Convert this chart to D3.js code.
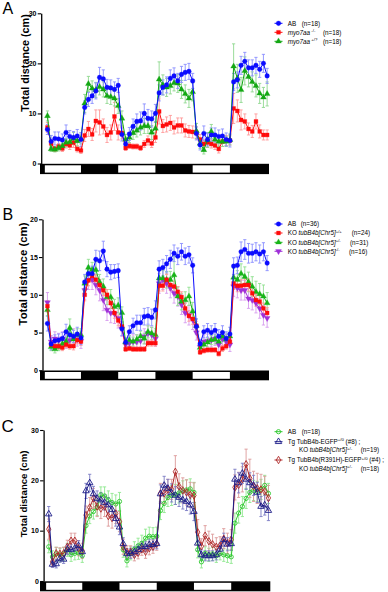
<!DOCTYPE html>
<html><head><meta charset="utf-8">
<script src="https://cdn.jsdelivr.net/npm/d3@7"></script>
<style>body{margin:0;background:#fff} svg{display:block;font-family:"Liberation Sans",Arial,sans-serif}</style>
</head><body><svg id="c" width="388" height="592"></svg>
<script>
// ---------- DATA ----------
const timeBins = d3.range(60);               // consecutive recording bins
const lightPeriods = [[-0.7, 9], [19, 29], [39, 49]];   // white = light phase
const xExtent = [-2, 59.5];

// Panel A
const A_ticks = [0, 10, 20, 30];
const A_AB = [6.8,4.4,5.0,4.9,4.7,6.2,5.4,5.2,5.5,4.8, 11.2,12.8,13.5,14.5,17.2,16.9,15.2,15.1,14.8,15.6, 5.8,3.9,5.9,7.4,8.4,8.5,10.0,9.0,8.9,10.0, 14.1,15.2,15.7,17.0,17.5,16.5,17.8,18.2,18.4,16.5, 6.0,3.7,6.0,4.8,5.7,5.7,5.4,5.5,4.8,4.6, 16.3,16.7,19.6,20.4,19.1,19.1,19.6,18.8,20.0,17.5];
const A_AB_err = [1.0,1.2,1.3,1.4,1.2,1.5,1.2,1.2,1.3,1.4, 1.3,1.4,1.5,1.6,2.0,1.8,1.6,1.6,1.5,1.4, 1.3,1.0,1.3,1.5,1.5,1.8,1.9,1.8,1.6,1.8, 1.6,1.5,1.6,1.7,1.6,1.5,1.6,1.6,1.6,1.5, 1.3,1.0,1.5,1.3,1.4,1.4,1.3,1.4,1.3,1.3, 1.7,1.6,1.8,1.8,1.6,1.6,1.6,1.6,1.8,1.5];
const A_mm = [7.2,4.0,2.9,3.4,3.0,3.9,3.6,4.2,2.9,2.6, 5.6,6.9,5.8,8.5,8.2,7.4,5.7,6.2,9.4,6.2, 6.1,3.1,3.5,3.4,3.4,3.1,3.9,4.6,4.0,5.2, 10.4,7.5,7.8,8.1,7.2,7.6,7.6,6.6,6.4,6.3, 6.1,4.8,3.9,4.2,3.9,3.6,2.9,4.4,4.6,4.6, 11.0,10.5,8.7,8.4,6.9,6.4,8.4,6.4,5.7,5.7];
const A_mm_err = [1.0,0.8,0.5,0.6,0.6,0.8,0.8,1.0,0.6,0.6, 1.2,1.5,1.2,2.2,2.5,1.5,1.5,1.5,2.8,1.5, 1.2,0.5,0.5,0.5,0.5,0.5,0.7,0.9,0.8,1.0, 2.5,1.3,1.5,1.5,1.3,1.5,1.5,1.3,1.2,1.2, 1.2,1.0,0.8,0.9,0.8,0.8,0.8,1.0,1.0,0.9, 3.0,2.2,2.0,1.5,1.2,1.2,1.5,1.3,1.0,1.0];
const A_pq = [9.5,2.9,2.8,3.1,3.5,4.2,4.3,5.0,4.5,4.9, 12.0,15.9,15.0,14.7,15.3,14.8,13.5,13.3,13.0,11.5, 9.0,4.8,5.2,6.1,6.6,7.2,7.5,7.5,6.2,7.0, 16.8,15.7,15.2,15.5,16.1,16.0,14.8,13.9,13.0,14.3, 6.5,4.0,2.7,4.7,6.4,4.8,4.4,4.4,4.4,4.7, 19.4,17.0,14.7,18.5,17.3,16.3,15.5,14.0,13.2,13.9];
const A_pq_err = [1.0,0.5,0.5,0.6,0.6,0.8,0.8,1.2,1.0,1.0, 1.8,1.5,1.5,1.5,1.6,1.5,1.5,1.5,1.5,1.5, 1.5,1.0,1.0,1.3,1.3,1.5,1.5,1.5,1.4,1.4, 3.5,2.0,1.8,1.6,1.6,1.8,1.8,1.8,1.8,1.8, 1.5,1.0,0.8,1.5,1.4,1.2,1.0,1.0,1.0,1.0, 4.5,2.8,2.5,2.8,2.0,2.0,2.2,2.0,2.0,2.4];

// Panel B
const B_ticks = [0, 5, 10, 15, 20];
const B_AB = [6.2,3.5,3.9,4.0,4.2,5.1,4.7,4.5,4.8,4.3, 11.7,12.8,12.8,14.7,14.5,15.8,13.4,13.0,13.1,13.2, 5.5,3.7,5.1,5.9,6.3,6.3,7.1,7.2,7.0,8.0, 13.4,13.6,14.1,14.7,15.5,15.1,15.7,15.1,15.3,13.9, 5.8,3.5,5.1,5.3,5.0,5.3,4.5,5.0,4.2,4.8, 13.8,13.9,15.7,16.0,15.5,15.5,15.7,15.4,15.7,14.2];
const B_AB_err = [1.0,0.8,0.8,0.8,0.8,1.0,0.9,0.8,0.9,0.9, 1.0,1.0,1.0,1.2,1.3,1.3,1.0,1.0,0.9,0.9, 0.9,0.6,0.8,1.0,1.0,1.0,1.1,1.1,1.1,1.2, 1.1,1.1,1.1,1.2,1.1,1.1,1.1,1.1,1.1,1.0, 1.0,0.6,0.8,0.9,0.9,0.9,0.9,0.9,0.9,0.9, 1.1,1.1,1.3,1.3,1.3,1.2,1.2,1.2,1.2,1.0];
const B_pp = [8.5,3.4,3.2,3.2,3.0,3.4,3.2,3.2,4.0,3.8, 10.0,11.9,12.5,12.0,11.3,10.6,10.0,8.9,7.6,6.6, 5.8,2.8,2.9,2.8,2.8,2.8,2.8,3.6,3.6,3.6, 11.2,11.2,12.0,11.3,11.1,10.4,9.7,8.2,7.2,6.8, 5.9,2.4,2.6,2.7,2.7,2.7,2.2,2.9,3.2,3.8, 11.5,11.2,11.2,11.3,11.3,10.2,9.3,9.1,8.2,7.6];
const B_pp_err = [0.7,0.4,0.4,0.4,0.4,0.4,0.4,0.5,0.5,0.5, 0.8,0.7,0.7,0.7,0.7,0.7,0.7,0.7,0.7,0.7, 0.6,0.3,0.3,0.3,0.3,0.3,0.3,0.4,0.4,0.4, 0.7,0.7,0.7,0.7,0.7,0.7,0.7,0.7,0.7,0.7, 0.6,0.3,0.3,0.3,0.3,0.3,0.3,0.4,0.4,0.4, 0.8,0.8,0.8,0.8,0.8,0.8,0.8,0.8,0.7,0.7];
const B_pm = [8.0,3.1,2.8,3.1,3.5,3.8,5.6,4.1,4.7,4.7, 11.5,13.6,13.3,13.3,11.7,11.1,9.7,9.7,8.4,8.6, 7.6,3.7,4.0,3.8,4.1,4.5,4.2,5.1,4.9,4.7, 12.2,12.2,12.0,12.0,12.6,9.8,9.1,9.3,9.8,7.8, 5.9,3.0,3.4,3.7,4.0,4.1,3.8,4.5,4.1,4.5, 12.3,12.0,12.8,12.4,11.7,11.1,10.4,10.1,9.8,8.9];
const B_pm_err = [0.8,0.5,0.5,0.5,0.6,0.6,1.2,0.8,0.8,0.8, 1.0,1.1,1.0,1.1,1.0,1.0,1.0,1.0,1.0,1.0, 0.8,0.5,0.6,0.6,0.6,0.7,0.7,0.8,0.8,0.8, 1.0,1.0,1.1,1.1,2.5,1.2,1.1,1.1,1.2,1.2, 0.9,0.5,0.6,0.6,0.6,0.6,0.6,0.7,0.7,0.7, 1.2,1.2,1.3,1.3,1.3,1.3,1.4,1.4,1.5,1.4];
const B_mm = [9.0,3.8,4.2,4.0,4.2,3.8,4.0,4.5,4.1,3.9, 10.6,12.0,12.0,11.3,10.6,9.3,8.0,7.6,7.5,6.9, 5.5,3.4,3.6,3.8,3.8,3.9,4.5,4.9,4.7,4.2, 11.5,12.0,11.5,10.9,10.2,9.8,8.7,7.6,7.3,6.7, 5.0,3.1,3.8,3.9,4.0,4.2,3.4,4.2,3.8,3.4, 11.1,10.9,10.6,10.6,9.5,9.3,8.9,8.2,7.3,6.9];
const B_mm_err = [1.3,0.8,0.9,0.9,0.9,0.9,0.9,1.0,0.9,1.0, 1.2,1.3,1.3,1.3,1.4,1.4,1.4,1.3,1.3,1.3, 1.0,0.8,0.9,0.9,0.9,0.9,1.0,1.0,1.0,1.0, 1.3,1.3,1.3,1.3,1.3,1.3,1.3,1.3,1.3,1.3, 1.0,0.8,0.9,0.9,0.9,0.9,0.9,0.9,0.9,0.9, 1.3,1.3,1.3,1.3,1.3,1.3,1.3,1.3,1.3,1.2];

// Panel C
const C_ticks = [0, 10, 20, 30];
const C_AB = [6.8,4.8,5.4,5.2,5.4,6.2,5.2,5.5,5.6,5.0, 11.0,12.9,13.8,14.6,17.1,16.9,16.1,15.6,15.3,15.8, 6.2,4.0,5.5,6.3,7.0,7.5,8.5,8.9,8.8,8.9, 14.0,15.4,16.6,17.0,17.2,17.5,17.9,18.1,18.3,17.6, 6.2,3.8,5.5,5.2,5.4,5.0,5.5,5.2,5.0,4.8, 11.5,13.5,14.8,16.4,17.6,18.0,17.8,18.2,19.0,17.4];
const C_AB_err = [1.2,1.2,1.3,1.3,1.3,1.3,1.3,1.3,1.3,1.3, 1.5,1.5,1.5,1.6,1.6,1.8,1.8,1.8,1.8,1.8, 1.5,1.2,1.3,1.5,1.5,1.6,1.8,1.8,1.8,1.8, 1.8,1.8,1.8,2.0,2.0,2.0,2.0,2.0,2.0,2.0, 1.6,1.2,1.3,1.3,1.3,1.3,1.3,1.3,1.3,1.3, 2.0,2.0,2.0,2.0,2.0,2.0,2.0,2.0,2.0,2.0];
const C_tg = [13.3,3.3,3.4,4.5,4.3,6.3,6.2,6.5,7.0,5.8, 17.9,19.5,17.3,16.4,16.1,15.6,15.1,14.2,12.4,10.7, 7.4,5.4,5.5,5.8,6.2,6.8,6.8,7.2,7.2,7.4, 17.3,19.0,18.4,17.5,17.0,16.6,16.1,15.8,15.1,13.8, 7.5,5.2,5.0,5.0,5.0,5.2,6.3,8.2,7.3,7.4, 20.2,19.5,21.4,20.2,19.5,19.0,17.6,14.8,15.1,14.0];
const C_tg_err = [1.5,0.6,0.8,0.8,0.8,1.0,1.0,1.0,1.0,1.0, 1.5,1.7,1.5,1.5,1.5,1.5,1.5,1.5,1.5,1.5, 1.2,1.0,1.0,1.0,1.0,1.0,1.0,1.0,1.0,1.0, 1.8,1.8,1.8,1.8,1.8,1.8,1.8,1.8,1.8,1.8, 1.5,1.0,1.0,1.0,1.0,1.0,1.2,1.3,1.3,1.3, 2.0,2.0,2.0,2.0,2.0,2.0,2.0,2.0,2.0,2.0];
const C_rh = [10.3,3.8,5.5,5.4,5.5,6.8,8.0,8.0,6.5,6.0, 13.1,14.6,16.4,14.8,14.4,14.8,12.9,12.5,13.4,11.8, 6.8,5.8,5.8,5.2,5.6,6.3,5.8,6.5,6.8,7.4, 17.4,17.4,18.2,18.2,21.7,18.8,18.0,17.6,17.1,17.0, 9.7,6.9,9.0,7.9,7.3,6.8,7.0,8.4,7.5,8.2, 18.6,19.1,20.2,23.2,20.4,18.8,18.4,18.2,17.8,16.5];
const C_rh_err = [2.0,1.0,1.2,1.2,1.2,1.3,1.5,1.5,1.5,1.5, 1.8,2.0,2.0,2.0,2.0,2.0,2.0,2.0,2.0,2.0, 1.5,1.2,1.2,1.2,1.2,1.2,1.3,1.3,1.3,1.3, 2.0,2.0,2.0,2.0,3.2,2.5,2.5,2.5,2.5,2.5, 2.5,1.5,2.0,2.0,2.0,1.8,1.8,2.0,2.0,2.0, 2.5,2.5,2.5,3.0,3.8,3.0,3.0,3.0,3.0,2.5];

// ---------- DRAW ----------
const svg = d3.select('#c');
const FONT = '"Liberation Sans",Arial,sans-serif';

function drawPanel(cfg) {
  const x = d3.scaleLinear().domain(xExtent).range(cfg.xRange);
  const y = d3.scaleLinear().domain([0, cfg.yMax]).range(cfg.yRange);
  const g = svg.append('g');

  // light/dark bar
  const x0 = 40, x1 = x(xExtent[1]);
  g.append('rect').attr('x', x0).attr('y', cfg.barY).attr('width', x1 - x0).attr('height', cfg.barH).attr('fill', '#000');
  g.selectAll('rect.lp').data(lightPeriods).enter().append('rect')
    .attr('x', d => x(d[0])).attr('width', d => x(d[1]) - x(d[0]))
    .attr('y', cfg.barY + 1.5).attr('height', cfg.barH - 3).attr('fill', '#fff');

  // y axis
  const ax = g.append('g').attr('transform', `translate(${cfg.axisX},0)`)
    .call(d3.axisLeft(y).tickValues(cfg.ticks).tickSize(3.5).tickSizeOuter(0).tickPadding(1.2).tickFormat(d3.format('d')));
  ax.select('.domain').attr('stroke-width', 1.3);
  ax.selectAll('.tick line').attr('stroke-width', 1.1);
  ax.selectAll('.tick text').attr('font-family', FONT).attr('font-size', 7).attr('font-weight', 'bold').attr('fill', '#000');

  // y label
  g.append('text').attr('transform', `translate(${cfg.labX},${cfg.labY}) rotate(-90)`)
    .attr('text-anchor', 'middle').attr('dy', '0.35em')
    .attr('font-size', cfg.labSize).attr('font-weight', 'bold').text('Total distance (cm)');
  // panel letter
  g.append('text').attr('x', cfg.letterX).attr('y', cfg.letterY).attr('font-size', cfg.letterSize).text(cfg.letter);

  // series
  cfg.series.forEach(s => {
    const pts = timeBins.map((t, i) => ({t, v: s.values[i], e: s.err[i]}));
    const eg = g.append('g').attr('stroke', s.errColor).attr('stroke-width', 0.9);
    pts.forEach(p => {
      const xx = x(p.t), yt = y(p.v + p.e), yb = y(Math.max(0, p.v - p.e));
      eg.append('line').attr('x1', xx).attr('x2', xx).attr('y1', yt).attr('y2', yb);
      eg.append('line').attr('x1', xx - 1.6).attr('x2', xx + 1.6).attr('y1', yt).attr('y2', yt);
      eg.append('line').attr('x1', xx - 1.6).attr('x2', xx + 1.6).attr('y1', yb).attr('y2', yb);
    });
  });
  cfg.series.forEach(s => {
    const pts = timeBins.map((t, i) => ({t, v: s.values[i]}));
    g.append('path').datum(pts).attr('fill', 'none').attr('stroke', s.color).attr('stroke-width', 1)
      .attr('d', d3.line().x(d => x(d.t)).y(d => y(d.v)));
    const sym = d3.symbol().type(s.symbol).size(s.size);
    g.selectAll(null).data(pts).enter().append('path')
      .attr('transform', d => `translate(${x(d.t)},${y(d.v)})${s.flip ? ' rotate(180)' : ''}`)
      .attr('d', sym)
      .attr('fill', s.open ? '#fff' : s.color).attr('fill-opacity', s.open ? 0 : 1)
      .attr('stroke', s.color).attr('stroke-width', s.open ? 0.9 : 0.3);
  });

  // legend
  const lg = g.append('g').attr('font-size', 6.3);
  cfg.legend.forEach(row => {
    if (row.s) {
      lg.append('line').attr('x1', 274.5).attr('x2', 282.5).attr('y1', row.y).attr('y2', row.y).attr('stroke', row.s.color).attr('stroke-width', 1);
      lg.append('path').attr('transform', `translate(278.5,${row.y})${row.s.flip ? ' rotate(180)' : ''}`)
        .attr('d', d3.symbol().type(row.s.symbol).size(row.s.size))
        .attr('fill', row.s.open ? 'none' : row.s.color).attr('stroke', row.s.color).attr('stroke-width', row.s.open ? 0.9 : 0.3);
    }
    const t = lg.append('text').attr('x', row.x || 287.7).attr('y', row.y + 2.2);
    row.parts.forEach(p => {
      const ts = t.append('tspan').text(p.t);
      if (p.i) ts.attr('font-style', 'italic');
      if (p.sup) ts.attr('font-size', 4.3).attr('dy', -2.6);
      if (p.unsup) ts.attr('dy', 2.6);
      if (p.x) ts.attr('x', p.x);
    });
  });
}

const blue = {color: '#0b0bff', errColor: '#8a8fff', symbol: d3.symbolCircle, size: 17};
const red = {color: '#ff0b0b', errColor: '#ff9a9a', symbol: d3.symbolSquare, size: 15};
const greenA = {color: '#13a813', errColor: '#8fd88f', symbol: d3.symbolTriangle, size: 15};
const greenB = {color: '#17b417', errColor: '#8fe08f', symbol: d3.symbolTriangle, size: 15};
const magenta = {color: '#a030d8', errColor: '#d79cee', symbol: d3.symbolTriangle, size: 15, flip: true};
const greenC = {color: '#2ec82e', errColor: '#90e890', symbol: d3.symbolCircle, size: 14, open: true};
const navy = {color: '#1c1c88', errColor: '#7c7cc4', symbol: d3.symbolTriangle, size: 18, open: true};
const dred = {color: '#b02a2a', errColor: '#dd9a9a', symbol: d3.symbolDiamond, size: 16, open: true};

const koParts = (sup) => [{t: 'KO '}, {t: 'tubB4b[Chr5]', i: true}, {t: sup, sup: true}];

drawPanel({
  letter: 'A', letterX: 2.5, letterY: 13.5, letterSize: 16,
  xRange: [40, 269], yRange: [163.5, 13.3], yMax: 30, ticks: A_ticks, axisX: 41.2,
  barY: 163.8, barH: 10.3, labX: 25, labY: 63, labSize: 10.8,
  series: [
    Object.assign({values: A_mm, err: A_mm_err}, red),
    Object.assign({values: A_pq, err: A_pq_err}, greenA),
    Object.assign({values: A_AB, err: A_AB_err}, blue)
  ],
  legend: [
    {y: 23.3, s: blue, parts: [{t: 'AB'}, {t: '(n=18)', x: 301.7}]},
    {y: 32.3, s: red, parts: [{t: 'myo7aa', i: true}, {t: ' -/-', sup: true}, {t: '(n=18)', unsup: true, x: 323}]},
    {y: 41.3, s: greenA, parts: [{t: 'myo7aa', i: true}, {t: ' +/?', sup: true}, {t: '(n=18)', unsup: true, x: 323}]}
  ]
});

drawPanel({
  letter: 'B', letterX: 2.5, letterY: 219.5, letterSize: 16,
  xRange: [40, 269], yRange: [370.3, 219.3], yMax: 20, ticks: B_ticks, axisX: 42.5,
  barY: 370.5, barH: 9.8, labX: 22.7, labY: 274, labSize: 11.4,
  series: [
    Object.assign({values: B_mm, err: B_mm_err}, magenta),
    Object.assign({values: B_pm, err: B_pm_err}, greenB),
    Object.assign({values: B_pp, err: B_pp_err}, red),
    Object.assign({values: B_AB, err: B_AB_err}, blue)
  ],
  legend: [
    {y: 224, s: blue, parts: [{t: 'AB'}, {t: '(n=36)', x: 300.7}]},
    {y: 233, s: red, parts: koParts('+/+').concat([{t: '(n=24)', unsup: true, x: 351.7}])},
    {y: 242.3, s: greenB, parts: koParts('+/-').concat([{t: '(n=31)', unsup: true, x: 350}])},
    {y: 251.3, s: magenta, parts: koParts('-/-').concat([{t: '(n=16)', unsup: true, x: 349}])}
  ]
});

drawPanel({
  letter: 'C', letterX: 1.5, letterY: 431.5, letterSize: 17,
  xRange: [41.3, 270.3], yRange: [581, 430], yMax: 30, ticks: C_ticks, axisX: 43.6,
  barY: 581.3, barH: 10, labX: 23.3, labY: 494, labSize: 9.6,
  series: [
    Object.assign({values: C_AB, err: C_AB_err}, greenC),
    Object.assign({values: C_rh, err: C_rh_err}, dred),
    Object.assign({values: C_tg, err: C_tg_err}, navy)
  ],
  legend: [
    {y: 431.7, s: greenC, parts: [{t: 'AB'}, {t: '(n=18)', x: 301.7}]},
    {y: 441.7, s: navy, parts: [{t: 'Tg TubB4b-EGFP'}, {t: '+/0', sup: true}, {t: ' (#8) ;', unsup: true}]},
    {y: 450.2, x: 299, parts: koParts('+/-').concat([{t: '(n=19)', unsup: true, x: 360.7}])},
    {y: 460, s: dred, parts: [{t: 'Tg TubB4b(R391H)-EGFP'}, {t: '+/0', sup: true}, {t: ' (#4) ;', unsup: true}]},
    {y: 468.5, x: 299, parts: koParts('+/-').concat([{t: '(n=18)', unsup: true, x: 360.7}])}
  ]
});
</script></body></html>
